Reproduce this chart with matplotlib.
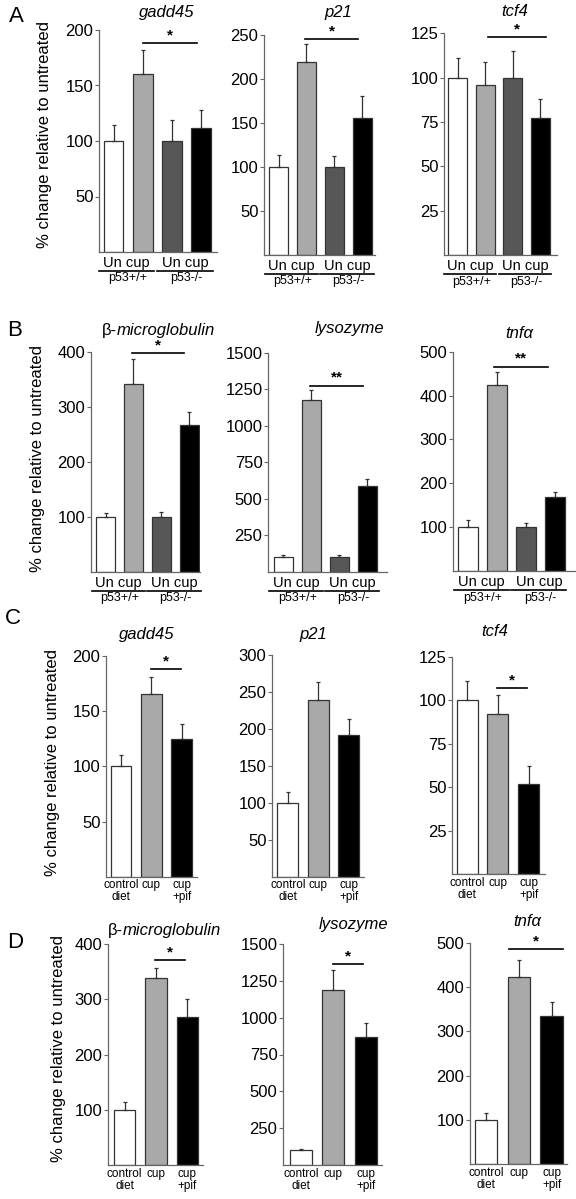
"""
Four-panel bar chart (A-D): % change in gene expression relative to untreated,
p53 genotype comparison (A, B) and pifithrin treatment (C, D).
"""
import matplotlib
matplotlib.use("Agg")
import matplotlib.pyplot as plt
from matplotlib.transforms import offset_copy
import numpy as np

plt.rcParams["font.family"] = ["Liberation Sans", "DejaVu Sans"]

# ---- data --------------------------------------------------------------
pair_label = "Un cup"
genotypes = ["p53+/+", "p53-/-"]
diet_labels = ["control\ndiet", "cup", "cup\n+pif"]

a_gadd45 = [100, 160, 100, 112]
a_gadd45_err = [14, 22, 19, 16]
a_p21 = [100, 219, 100, 155]
a_p21_err = [14, 21, 12, 26]
a_tcf4 = [100, 96, 100, 77]
a_tcf4_err = [11, 13, 15, 11]

b_b2m = [100, 341, 100, 267]
b_b2m_err = [6, 46, 9, 24]
b_lyz = [100, 1176, 100, 586]
b_lyz_err = [15, 67, 15, 49]
b_tnf = [100, 423, 100, 168]
b_tnf_err = [17, 30, 10, 12]

c_gadd45 = [100, 166, 125]
c_gadd45_err = [10, 15, 13]
c_p21 = [100, 239, 192]
c_p21_err = [14, 24, 22]
c_tcf4 = [100, 92, 52]
c_tcf4_err = [11, 11, 10]

d_b2m = [100, 339, 268]
d_b2m_err = [15, 18, 32]
d_lyz = [100, 1185, 870]
d_lyz_err = [10, 140, 93]
d_tnf = [100, 423, 334]
d_tnf_err = [15, 39, 32]

# significance bars: (from, to, height, stars)
a_gadd45_sig = (1.0, 2.86, 188, "*")
a_p21_sig = (0.95, 2.84, 245, "*")
a_tcf4_sig = (1.1, 3.2, 123, "*")
b_b2m_sig = (0.95, 2.8, 398, "*")
b_lyz_sig = (0.95, 2.85, 1277, "**")
b_tnf_sig = (0.9, 2.78, 466, "**")
c_gadd45_sig = (1.0, 1.97, 188, "*")
c_tcf4_sig = (0.97, 1.95, 107, "*")
d_b2m_sig = (0.97, 1.94, 371, "*")
d_lyz_sig = (1.0, 1.9, 1366, "*")
d_tnf_sig = (0.7, 2.35, 486, "*")

colors4 = ["white", "#a9a9a9", "#575757", "black"]
colors3 = ["white", "#a9a9a9", "black"]

W, H = 576, 1199
fig = plt.figure(figsize=(W / 100, H / 100), dpi=100)
AXC = "#666666"


def px_axes(left, right, top, bottom):
    return fig.add_axes([left / W, 1 - bottom / H, (right - left) / W, (bottom - top) / H])


def px_text(x, y, s, **kw):
    fig.text(x / W, 1 - y / H, s, **kw)


def panel(box, xlim, means, errs, colors, yticks, sig=None):
    ax = px_axes(*box)
    x = np.arange(len(means))
    ax.bar(x, means, width=0.68, color=colors, edgecolor="#333333",
           linewidth=0.9, zorder=2)
    ax.errorbar(x, means, yerr=[np.zeros(len(errs)), errs], fmt="none",
                ecolor="#333333", elinewidth=0.9, capsize=1.2, capthick=0.9,
                zorder=3)
    ax.set_xlim(xlim)
    ax.set_ylim(0, yticks[-1])
    ax.set_yticks(yticks)
    for s in ["top", "right"]:
        ax.spines[s].set_visible(False)
    for s in ["left", "bottom"]:
        ax.spines[s].set_color(AXC)
        ax.spines[s].set_linewidth(0.9)
    ax.tick_params(axis="y", length=3, width=0.8, pad=1, labelsize=12,
                   color=AXC)
    ax.tick_params(axis="x", length=0, pad=2)
    if sig is not None:
        x0, x1, y, stars = sig
        ax.plot([x0, x1], [y, y], color="black", lw=1.2, clip_on=False)
        ax.annotate(stars, ((x0 + x1) / 2, y), xytext=(0, 0.5),
                    textcoords="offset points", ha="center", va="bottom",
                    fontsize=11, fontweight="bold")
    return ax


def genotype_axis(ax):
    ax.set_xticks([])
    tr = ax.get_xaxis_transform()
    lab_tr = offset_copy(tr, fig=fig, y=-11 * 0.72, units="points")
    line_tr = offset_copy(tr, fig=fig, y=-19 * 0.72, units="points")
    text_tr = offset_copy(tr, fig=fig, y=-26.5 * 0.72, units="points")
    for g, name in enumerate(genotypes):
        ax.text(2 * g + 0.45, 0, pair_label, transform=lab_tr, ha="center",
                va="center", fontsize=10.5)
        ax.plot([2 * g - 0.5, 2 * g + 1.4], [0, 0], color="black", lw=1.2,
                transform=line_tr, clip_on=False)
        ax.text(2 * g + 0.5, 0, name, transform=text_tr, ha="center",
                va="center", fontsize=9)


def diet_axis(ax):
    ax.set_xticks(range(3), diet_labels, fontsize=8.5, linespacing=1.0)


# ---- panel A -----------------------------------------------------------
ax = panel((99, 217, 30, 252), (-0.5, 3.55), a_gadd45, a_gadd45_err, colors4,
           [50, 100, 150, 200], a_gadd45_sig)
genotype_axis(ax)
ax = panel((264, 375, 35, 254.7), (-0.52, 3.45), a_p21, a_p21_err, colors4,
           [50, 100, 150, 200, 250], a_p21_sig)
genotype_axis(ax)
ax = panel((444, 557, 33.3, 255), (-0.49, 3.6), a_tcf4, a_tcf4_err, colors4,
           [25, 50, 75, 100, 125], a_tcf4_sig)
genotype_axis(ax)

# ---- panel B -----------------------------------------------------------
ax = panel((91, 200, 351.7, 571.7), (-0.52, 3.38), b_b2m, b_b2m_err, colors4,
           [100, 200, 300, 400], b_b2m_sig)
genotype_axis(ax)
ax = panel((268, 387, 353, 571.7), (-0.55, 3.7), b_lyz, b_lyz_err, colors4,
           [250, 500, 750, 1000, 1250, 1500], b_lyz_sig)
genotype_axis(ax)
ax = panel((453, 575, 351.7, 571), (-0.52, 3.7), b_tnf, b_tnf_err, colors4,
           [100, 200, 300, 400, 500], b_tnf_sig)
genotype_axis(ax)

# ---- panel C -----------------------------------------------------------
ax = panel((106, 197, 656, 876.7), (-0.49, 2.5), c_gadd45, c_gadd45_err,
           colors3, [50, 100, 150, 200], c_gadd45_sig)
diet_axis(ax)
ax = panel((272, 364, 655, 876.7), (-0.52, 2.5), c_p21, c_p21_err, colors3,
           [50, 100, 150, 200, 250, 300])
diet_axis(ax)
ax = panel((452, 545, 656.7, 874), (-0.49, 2.53), c_tcf4, c_tcf4_err, colors3,
           [25, 50, 75, 100, 125], c_tcf4_sig)
diet_axis(ax)

# ---- panel D -----------------------------------------------------------
ax = panel((108, 203, 944.3, 1165), (-0.53, 2.5), d_b2m, d_b2m_err, colors3,
           [100, 200, 300, 400], d_b2m_sig)
diet_axis(ax)
ax = panel((283, 382, 944, 1165), (-0.55, 2.5), d_lyz, d_lyz_err, colors3,
           [250, 500, 750, 1000, 1250, 1500], d_lyz_sig)
diet_axis(ax)
ax = panel((470, 567, 943, 1164), (-0.49, 2.47), d_tnf, d_tnf_err, colors3,
           [100, 200, 300, 400, 500], d_tnf_sig)
diet_axis(ax)

# ---- titles, letters, y labels ----------------------------------------
tkw = dict(fontsize=12, fontstyle="italic", ha="center", va="center")
px_text(167, 12, "gadd45", **tkw)
px_text(338, 12, "p21", **tkw)
px_text(515, 12, "tcf4", **tkw)
px_text(117, 331, "β-", fontsize=12, ha="right", va="center")
px_text(117, 331, "microglobulin", fontsize=12, fontstyle="italic",
        ha="left", va="center")
px_text(350, 329, "lysozyme", **tkw)
px_text(519, 333, "tnfα", **tkw)
px_text(147, 634, "gadd45", **tkw)
px_text(313, 634, "p21", **tkw)
px_text(495, 632, "tcf4", **tkw)
px_text(123, 931, "β-", fontsize=12, ha="right", va="center")
px_text(123, 931, "microglobulin", fontsize=12, fontstyle="italic",
        ha="left", va="center")
px_text(354, 924, "lysozyme", **tkw)
px_text(527, 922, "tnfα", **tkw)

lkw = dict(fontsize=16, ha="center", va="center")
px_text(16, 17, "A", **lkw)
px_text(15, 331, "B", **lkw)
px_text(13, 619, "C", **lkw)
px_text(15, 942, "D", **lkw)

ykw = dict(fontsize=12, rotation=90, ha="center", va="center")
ylab = "% change relative to untreated"
px_text(45, 134, ylab, **ykw)
px_text(38, 459, ylab, **ykw)
px_text(53, 762, ylab, **ykw)
px_text(58, 1048, ylab, **ykw)

fig.savefig("out.png", dpi=100)
plt.close(fig)
